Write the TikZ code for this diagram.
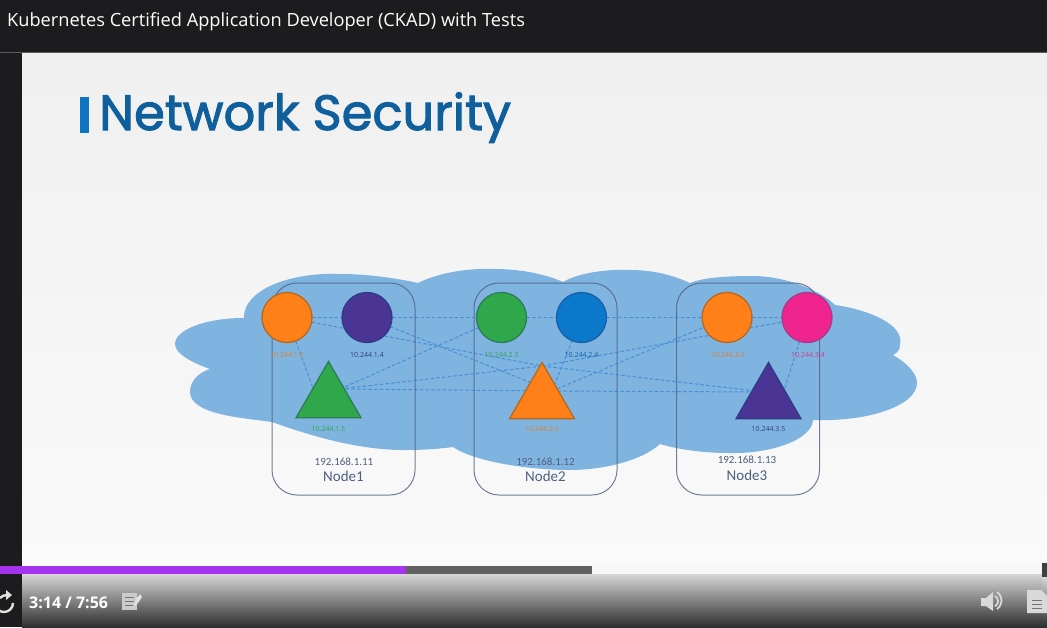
\documentclass[tikz,border=0pt]{standalone}
\usepackage{fontspec}
\setmainfont{Open Sans}
\newfontfamily\headfont[FakeBold=2]{Poppins}
\newfontfamily\hostfont{Carlito}
\usetikzlibrary{shapes.geometric}
\pgfdeclarelayer{bglayer}
\pgfdeclarelayer{edgelayer}
\pgfsetlayers{bglayer,edgelayer,main}
\definecolor{cloudc}{HTML}{7FB3E0}
\definecolor{darkbar}{HTML}{1C1C1E}
\definecolor{linkc}{HTML}{4590D6}
\definecolor{rectc}{HTML}{4F5F7C}
\definecolor{cOrange}{HTML}{FF8019}
\definecolor{dOrange}{HTML}{B5691F}
\definecolor{cPurple}{HTML}{4B3594}
\definecolor{dPurple}{HTML}{2F3B85}
\definecolor{cGreen}{HTML}{2FA84C}
\definecolor{dGreen}{HTML}{2B7D55}
\definecolor{cBlue}{HTML}{0B78CC}
\definecolor{dBlue}{HTML}{1561A5}
\definecolor{cPink}{HTML}{F0248E}
\definecolor{dPink}{HTML}{A83A8C}
\definecolor{titlec}{HTML}{0F5F9C}
\definecolor{barc}{HTML}{0E75C4}
\definecolor{progc}{HTML}{A533EE}
\tikzset{
  x=1pt,y=-1pt,
  pod/.style={circle,minimum size=50,inner sep=0,outer sep=0,line width=1.3pt,draw=#1},
  tri/.style={regular polygon,regular polygon sides=3,minimum size=75,inner sep=0,outer sep=0,line width=1.3pt,draw=#1},
  link/.style={draw=linkc,line width=1pt,dash pattern=on 3.5pt off 2.2pt},
  hostbox/.style={draw=rectc,draw opacity=.8,line width=1pt,rounded corners=25,minimum width=143,minimum height=212,inner sep=0},
  iplabel/.style={font=\fontsize{7}{8}\selectfont,inner sep=0},
  hostip/.style={font=\hostfont\fontsize{11}{12}\selectfont,text=rectc,inner sep=0},
  hostname/.style={font=\hostfont\fontsize{15}{16}\selectfont,text=rectc,inner sep=0},
  uitext/.style={text=white,inner sep=0,anchor=west},
}
\begin{document}
\begin{tikzpicture}
\useasboundingbox (0,0) rectangle (1047,627);
\begin{pgfonlayer}{bglayer}
\fill[darkbar] (0,0) rectangle (1047,627);
\fill[top color=white!94!black,bottom color=white!98!black] (22,53) rectangle (1047,566);
\fill[gray!70!black] (0,52) rectangle (1047,53);
\fill[white!97!black] (592,566) rectangle (1042,574);
\fill[black!62] (406,566) rectangle (592,574);
\fill[progc] (0,566) rectangle (406,574);
\fill[top color=white!84!black,bottom color=black!82] (22,574) rectangle (1042,627);
\fill[top color=white!84!black,bottom color=black!82] (1042,577) rectangle (1047,627);
\fill[black!75] (1042,563) rectangle (1047,577);
% cloud
\fill[cloudc] (244,318)
  .. controls (243,290) and (290,272) .. (340,274)
  .. controls (370,274) and (400,279) .. (418,283)
  .. controls (440,272) and (470,268) .. (495,269)
  .. controls (525,269) and (550,276) .. (563,282)
  .. controls (580,272) and (610,269) .. (630,270)
  .. controls (655,270) and (675,276) .. (690,283)
  .. controls (705,277) and (730,276) .. (755,276)
  .. controls (790,277) and (822,292) .. (835,305)
  .. controls (870,310) and (905,325) .. (900,345)
  .. controls (900,350) and (897,353) .. (893,355)
  .. controls (910,365) and (917,375) .. (917,383)
  .. controls (917,405) and (870,422) .. (813,420)
  .. controls (812,440) and (770,454) .. (730,453)
  .. controls (705,453) and (680,450) .. (660,444)
  .. controls (640,462) and (600,470) .. (570,470)
  .. controls (530,470) and (475,462) .. (453,447)
  .. controls (430,450) and (415,450) .. (400,450)
  .. controls (350,449) and (300,432) .. (272,422)
  .. controls (245,418) and (190,415) .. (190,392)
  .. controls (190,380) and (200,372) .. (210,369)
  .. controls (190,362) and (175,353) .. (175,344)
  .. controls (175,330) and (205,318) .. (244,318)
  -- cycle;
\end{pgfonlayer}

% host boxes
\node[hostbox] (host1) at (343.5,389) {};
\node[hostbox] (host2) at (545.5,389) {};
\node[hostbox] (host3) at (748,389) {};

% pods
\node[pod=dOrange,fill=cOrange] (o1) at (287,317.5) {};
\node[pod=dPurple,fill=cPurple] (p1) at (367,317.5) {};
\node[pod=dGreen,fill=cGreen] (g2) at (501.5,317.5) {};
\node[pod=dBlue,fill=cBlue] (b2) at (581.5,317.5) {};
\node[pod=dOrange,fill=cOrange] (o3) at (727,317.5) {};
\node[pod=dPink,fill=cPink] (k3) at (807,317.5) {};
\node[tri=dGreen,fill=cGreen] (t1) at (328.5,399) {};
\node[tri=dOrange,fill=cOrange] (t2) at (542,400) {};
\node[tri=dPurple,fill=cPurple] (t3) at (768.5,400) {};

% connector ends inside the triangles
\coordinate (t1a) at (317,399);
\coordinate (t1b) at (340,389);
\coordinate (t2a) at (542,366);
\coordinate (t2b) at (552,391);
\coordinate (t3a) at (765,392);
\coordinate (t3b) at (782,397);

\begin{pgfonlayer}{edgelayer}
\draw[link] (o1) -- (p1);
\draw[link] (p1) -- (g2);
\draw[link] (g2) -- (b2);
\draw[link] (b2) -- (o3);
\draw[link] (o3) -- (k3);
\draw[link] (o1) -- (t1a);
\draw[link] (o1) -- (t2a);
\draw[link] (p1) -- (t2b);
\draw[link] (t1b) -- (g2);
\draw[link] (t1b) -- (t2a);
\draw[link] (t1b) -- (t2b);
\draw[link] (t2b) -- (b2);
\draw[link] (t2b) -- (o3);
\draw[link] (t2a) -- (k3);
\draw[link] (t2a) -- (t3a);
\draw[link] (t2b) -- (t3a);
\draw[link] (k3) -- (t3b);
\end{pgfonlayer}

% pod labels
\node[iplabel,text=cOrange!80!gray] (l1) at (287,355) {10.244.1.3};
\node[iplabel,text=dPurple] (l2) at (367,355) {10.244.1.4};
\node[iplabel,text=cGreen] (l3) at (328.5,429) {10.244.1.5};
\node[iplabel,text=cGreen] (l4) at (501.5,355) {10.244.2.3};
\node[iplabel,text=dBlue] (l5) at (581.5,355) {10.244.2.4};
\node[iplabel,text=cOrange!80!gray] (l6) at (542,429) {10.244.2.5};
\node[iplabel,text=cOrange!80!gray] (l7) at (728,355) {10.244.3.3};
\node[iplabel,text=cPink!80!gray] (l8) at (808,355) {10.244.3.4};
\node[iplabel,text=dPurple] (l9) at (768.5,429) {10.244.3.5};

% host labels
\node[hostip] (ip1) at (344,462) {192.168.1.11};
\node[hostname] (n1) at (343.5,476) {Node1};
\node[hostip] (ip2) at (545.5,462) {192.168.1.12};
\node[hostname] (n2) at (545.5,476) {Node2};
\node[hostip] (ip3) at (747,459.5) {192.168.1.13};
\node[hostname] (n3) at (747,475) {Node3};

% slide title
\fill[barc] (80,97) rectangle (89,133);
\node[inner sep=0,anchor=base west,text=titlec,font=\fontsize{49.6}{54}\headfont] (title) at (99,130) {Network Security};

% window title
\node[uitext,font=\fontsize{18.2}{20}\selectfont] (win) at (7,21.5) {Kubernetes Certified Application Developer (CKAD) with Tests};

% player controls
\node[uitext,font=\fontsize{16}{18}\selectfont\bfseries] (time) at (29,603) {3:14 / 7:56};
% replay
\draw[white!88!black,line width=2.4pt] (13,603) arc[start angle=0,end angle=130,radius=9];
\draw[white!88!black,line width=2.4pt] (0,598) .. controls (2,596) and (4,595) .. (7,595);
\fill[white!88!black] (6,590) -- (12,595) -- (6,600) -- cycle;
% note icon
\fill[white!80!black] (122,593) rectangle (137,610);
\foreach \yy in {597,601,605}{\fill[black!55] (125,\yy) rectangle (134,\yy+1);}
\fill[white!88!black] (133,607) -- (136,599) -- (140,594) -- (142,597) -- (138,603) -- cycle;
% speaker
\fill[white!85!black] (981,598) -- (986,598) -- (993,592) -- (993,611) -- (986,606) -- (981,606) -- cycle;
\draw[white!85!black,line width=1.8pt] (995,596) arc[start angle=-60,end angle=60,radius=6];
\draw[white!85!black,line width=1.8pt] (997,592) arc[start angle=-55,end angle=55,radius=10.5];
% document
\fill[white!85!black] (1027,590) -- (1041,590) -- (1047,596) -- (1047,613) -- (1027,613) -- cycle;
\foreach \yy in {600,604,608}{\fill[black!55] (1032,\yy) rectangle (1042,\yy+1);}
\end{tikzpicture}
\end{document}
